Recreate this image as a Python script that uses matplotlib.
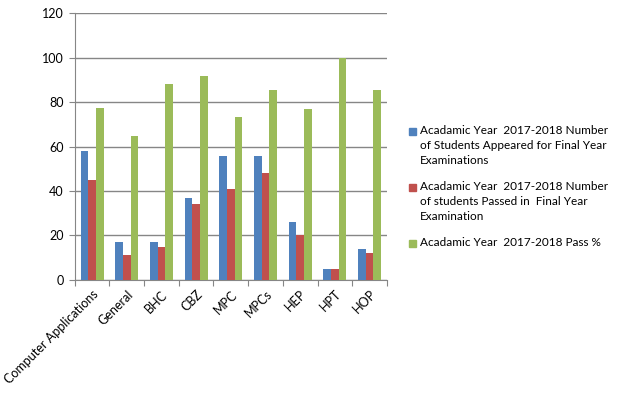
import numpy as np
import matplotlib.pyplot as plt
from matplotlib.patches import Rectangle

courses = ['Computer Applications', 'General', 'BHC', 'CBZ', 'MPC', 'MPCs',
           'HEP', 'HPT', 'HOP']
appeared = [58, 17, 17, 37, 56, 56, 26, 5, 14]
passed = [45, 11, 15, 34, 41, 48, 20, 5, 12]
pass_pct = [77.6, 64.7, 88.2, 91.9, 73.2, 85.7, 76.9, 100, 85.7]

labels = ['Acadamic Year  2017-2018 Number\nof Students Appeared for Final Year\nExaminations',
          'Acadamic Year  2017-2018 Number\nof students Passed in  Final Year\nExamination',
          'Acadamic Year  2017-2018 Pass %']
colors = ['#4F81BD', '#C0504D', '#9BBB59']

plt.rcParams['font.family'] = ['Lato', 'DejaVu Sans']

W, H = 618, 397
fig = plt.figure(figsize=(W / 100, H / 100), dpi=100)
ax = fig.add_axes([0.121, 0.295, 0.505, 0.671])

x = np.arange(len(courses))
w = 0.22
for i, vals in enumerate([appeared, passed, pass_pct]):
    ax.bar(x + (i - 1) * w, vals, w, color=colors[i], zorder=3)

ax.set_xlim(-0.5, len(courses) - 0.5)
ax.set_ylim(0, 120)
ax.set_yticks(range(0, 121, 20))
ax.set_xticks(np.arange(-0.5, len(courses), 1.0))
ax.set_xticks(x, minor=True)
ax.set_xticklabels([''] * (len(courses) + 1))
ax.set_xticklabels(courses, minor=True, rotation=45, ha='right',
                   rotation_mode='anchor')
ax.tick_params(axis='x', which='minor', length=0, pad=6, labelsize=9)
ax.tick_params(axis='x', which='major', length=4, color='#868686')
ax.tick_params(axis='y', length=4, color='#868686', labelsize=9, pad=4)

ax.grid(axis='y', color='#868686', linewidth=1, zorder=0)
for s in ['top', 'right']:
    ax.spines[s].set_visible(False)
for s in ['left', 'bottom']:
    ax.spines[s].set_color('#868686')

# legend drawn by hand so the colour square sits on the first text line
tops = [131, 187, 243]
for lab, col, yc in zip(labels, colors, tops):
    fig.patches.append(Rectangle((409 / W, 1 - (yc + 3.5) / H), 6.5 / W, 6.5 / H,
                                 transform=fig.transFigure, color=col))
    fig.text(420 / W, 1 - (yc - 6.5) / H, lab, fontsize=8.5, va='top', ha='left',
             linespacing=1.45)

fig.savefig('out.png', dpi=100)
